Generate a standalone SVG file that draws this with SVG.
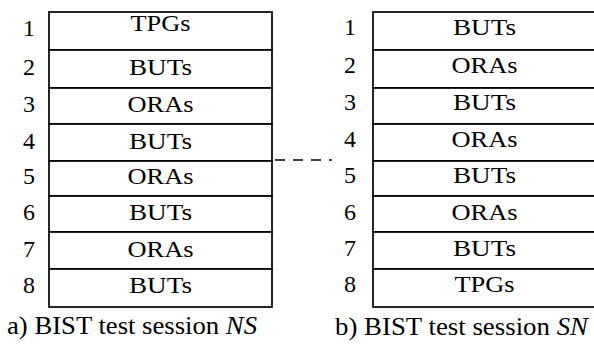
<svg xmlns="http://www.w3.org/2000/svg" width="594" height="347" viewBox="0 0 594 347">
<style>
.cell{fill:#fff;stroke:#000;stroke-width:1.7}
.t{font-family:"Liberation Serif","Times New Roman",serif;font-size:24px;fill:#000;text-anchor:middle}
.n{font-family:"Liberation Serif","Times New Roman",serif;font-size:24px;fill:#000;text-anchor:middle}
.cap{font-family:"Liberation Serif","Times New Roman",serif;font-size:25px;fill:#000}
.dash{stroke:#000;stroke-width:1.4;stroke-dasharray:10 8;fill:none}
</style>
<rect width="594" height="347" fill="#fff"/>
<g id="tableNS">
<g id="ns1"><rect class="cell" x="49" y="12" width="223" height="38"/><text class="n" x="29" y="36">1</text><text class="t" x="160.5" y="31" textLength="60" lengthAdjust="spacingAndGlyphs">TPGs</text></g>
<g id="ns2"><rect class="cell" x="49" y="50" width="223" height="38"/><text class="n" x="29" y="75">2</text><text class="t" x="160.5" y="75" textLength="63" lengthAdjust="spacingAndGlyphs">BUTs</text></g>
<g id="ns3"><rect class="cell" x="49" y="88" width="223" height="36"/><text class="n" x="29" y="112">3</text><text class="t" x="160.5" y="112" textLength="66" lengthAdjust="spacingAndGlyphs">ORAs</text></g>
<g id="ns4"><rect class="cell" x="49" y="124" width="223" height="37"/><text class="n" x="29" y="149">4</text><text class="t" x="160.5" y="149" textLength="63" lengthAdjust="spacingAndGlyphs">BUTs</text></g>
<g id="ns5"><rect class="cell" x="49" y="161" width="223" height="35"/><text class="n" x="29" y="184">5</text><text class="t" x="160.5" y="184" textLength="66" lengthAdjust="spacingAndGlyphs">ORAs</text></g>
<g id="ns6"><rect class="cell" x="49" y="196" width="223" height="36"/><text class="n" x="29" y="220">6</text><text class="t" x="160.5" y="220" textLength="63" lengthAdjust="spacingAndGlyphs">BUTs</text></g>
<g id="ns7"><rect class="cell" x="49" y="232" width="223" height="37"/><text class="n" x="29" y="257">7</text><text class="t" x="160.5" y="257" textLength="66" lengthAdjust="spacingAndGlyphs">ORAs</text></g>
<g id="ns8"><rect class="cell" x="49" y="269" width="223" height="38"/><text class="n" x="29" y="293">8</text><text class="t" x="160.5" y="293" textLength="63" lengthAdjust="spacingAndGlyphs">BUTs</text></g>
</g>
<g id="tableSN">
<g id="sn1"><rect class="cell" x="373" y="12" width="223" height="38"/><text class="n" x="350" y="35">1</text><text class="t" x="484.5" y="35" textLength="63" lengthAdjust="spacingAndGlyphs">BUTs</text></g>
<g id="sn2"><rect class="cell" x="373" y="50" width="223" height="38"/><text class="n" x="350" y="73">2</text><text class="t" x="484.5" y="73" textLength="66" lengthAdjust="spacingAndGlyphs">ORAs</text></g>
<g id="sn3"><rect class="cell" x="373" y="88" width="223" height="36"/><text class="n" x="350" y="110">3</text><text class="t" x="484.5" y="110" textLength="63" lengthAdjust="spacingAndGlyphs">BUTs</text></g>
<g id="sn4"><rect class="cell" x="373" y="124" width="223" height="37"/><text class="n" x="350" y="147">4</text><text class="t" x="484.5" y="147" textLength="66" lengthAdjust="spacingAndGlyphs">ORAs</text></g>
<g id="sn5"><rect class="cell" x="373" y="161" width="223" height="35"/><text class="n" x="350" y="183">5</text><text class="t" x="484.5" y="183" textLength="63" lengthAdjust="spacingAndGlyphs">BUTs</text></g>
<g id="sn6"><rect class="cell" x="373" y="196" width="223" height="36"/><text class="n" x="350" y="220">6</text><text class="t" x="484.5" y="220" textLength="66" lengthAdjust="spacingAndGlyphs">ORAs</text></g>
<g id="sn7"><rect class="cell" x="373" y="232" width="223" height="37"/><text class="n" x="350" y="256">7</text><text class="t" x="484.5" y="256" textLength="63" lengthAdjust="spacingAndGlyphs">BUTs</text></g>
<g id="sn8"><rect class="cell" x="373" y="269" width="223" height="38"/><text class="n" x="350" y="292">8</text><text class="t" x="484.5" y="292" textLength="60" lengthAdjust="spacingAndGlyphs">TPGs</text></g>
</g>
<g id="connectors">
<line class="dash" x1="275" y1="160" x2="332" y2="160"/>
</g>
<g id="captions">
<text class="cap" x="7" y="334" textLength="250" lengthAdjust="spacingAndGlyphs">a) BIST test session <tspan font-style="italic">NS</tspan></text>
<text class="cap" x="335" y="335" textLength="253" lengthAdjust="spacingAndGlyphs">b) BIST test session <tspan font-style="italic">SN</tspan></text>
</g>
</svg>
